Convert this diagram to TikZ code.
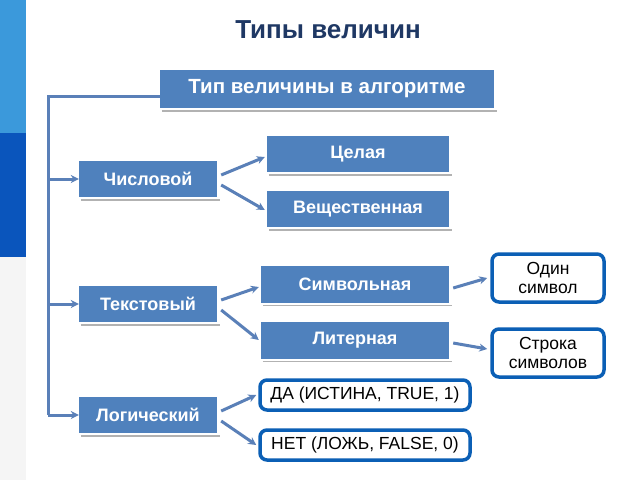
\documentclass[tikz,border=0pt]{standalone}
\usepackage{fontspec}
\setmainfont{Liberation Sans}
\usetikzlibrary{arrows.meta}
\definecolor{boxb}{HTML}{4F81BD}
\definecolor{lineb}{HTML}{5A80B8}
\definecolor{rim}{HTML}{0B5FB5}
\definecolor{ttl}{HTML}{1F3864}
\begin{document}
\begin{tikzpicture}[x=1pt,y=-1pt,
 blue box/.style={fill=boxb,text=white,font=\bfseries\fontsize{18}{20}\selectfont,inner sep=0pt,
   append after command={\pgfextra{\draw[gray!60,line width=1.5pt] ([xshift=2pt,yshift=-3pt]\tikzlastnode.south west)--([xshift=3pt,yshift=-3pt]\tikzlastnode.south east);}}},
 val box/.style={draw=rim,line width=3.5pt,rounded corners=7pt,fill=white,font=\fontsize{17.5}{19.5}\selectfont,align=center,inner sep=0pt},
 conn/.style={draw=lineb,line width=3pt},
 arr/.style={conn,-{Stealth[length=8pt,width=8pt]}}]
\useasboundingbox (0,0) rectangle (640,480);
\fill[white] (0,0) rectangle (640,480);
\fill[cyan!70!blue!80] (0,0) rectangle (26,133);
\fill[rim!90!blue] (0,133) rectangle (26,257);
\fill[gray!8] (0,257) rectangle (26,480);
\node[font=\bfseries\fontsize{26}{30}\selectfont,text=ttl] (title) at (328,30) {Типы величин};
\node[blue box,minimum width=334pt,minimum height=38pt,font=\bfseries\fontsize{20.5}{22}\selectfont] (top) at (327,89) {Тип величины в алгоритме};
\node[blue box,minimum width=182pt,minimum height=36pt] (cel) at (358,154) {Целая};
\node[blue box,minimum width=138pt,minimum height=36pt] (num) at (148,179) {Числовой};
\node[blue box,minimum width=182pt,minimum height=36pt] (ves) at (358,209) {Вещественная};
\node[blue box,minimum width=188pt,minimum height=37pt] (sym) at (355,284) {Символьная};
\node[blue box,minimum width=138pt,minimum height=36pt] (txt) at (148,304) {Текстовый};
\node[blue box,minimum width=188pt,minimum height=37pt] (lit) at (355,340) {Литерная};
\node[blue box,minimum width=138pt,minimum height=36pt] (log) at (148,415) {Логический};
\node[val box,minimum width=112pt,minimum height=48pt] (one) at (548,278) {Один\\символ};
\node[val box,minimum width=112pt,minimum height=48pt] (str) at (548,353) {Строка\\символов};
\node[val box,minimum width=210pt,minimum height=30pt] (yes) at (365,395) {ДА (ИСТИНА, TRUE, 1)};
\node[val box,minimum width=210pt,minimum height=30pt] (no) at (365,445) {НЕТ (ЛОЖЬ, FALSE, 0)};
\coordinate (tl) at (48,96);
\coordinate (bl) at (48,415);
\draw[conn] ([yshift=-7pt]top.west) -- (tl) -- (bl);
\draw[arr] (48,179) -- (num.west);
\draw[arr] (48,304) -- (txt.west);
\draw[arr] (bl) -- (log.west);
\draw[arr] ([xshift=4pt,yshift=4pt]num.east) -- ([xshift=-2pt,yshift=-3pt]cel.west);
\draw[arr] ([xshift=4pt,yshift=-6pt]num.east) -- ([xshift=-2pt,yshift=-1pt]ves.west);
\draw[arr] ([xshift=4pt,yshift=4pt]txt.east) -- ([xshift=-2pt,yshift=-3pt]sym.west);
\draw[arr] ([xshift=4pt,yshift=-6pt]txt.east) -- ([xshift=-2pt,yshift=0pt]lit.west);
\draw[arr] ([xshift=4pt,yshift=4pt]log.east) -- ([xshift=-2pt]yes.west);
\draw[arr] ([xshift=4pt,yshift=-6pt]log.east) -- ([xshift=-2pt]no.west);
\draw[arr] ([xshift=4pt,yshift=-4pt]sym.east) -- ([xshift=-3pt]one.west);
\draw[arr] ([xshift=4pt,yshift=-3pt]lit.east) -- ([xshift=-3pt,yshift=4pt]str.west);
\end{tikzpicture}
\end{document}
